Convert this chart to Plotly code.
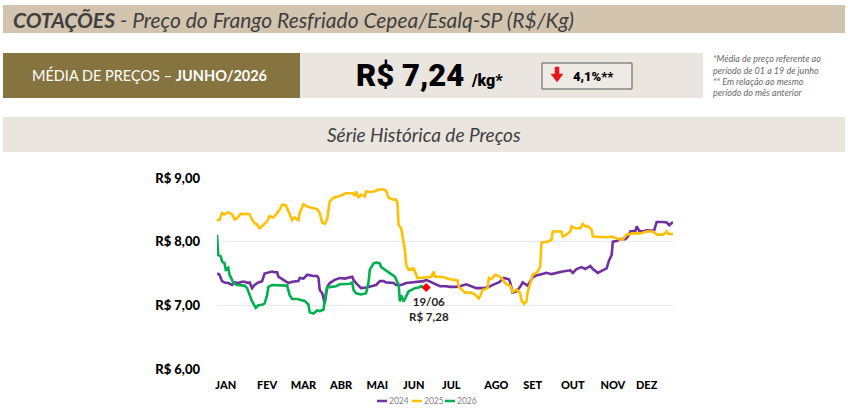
import plotly.graph_objects as go

# ---------------- data (day of year, R$/kg) ----------------
days_2024 = [1, 3, 5, 7, 10, 13, 15, 18, 21, 23, 26, 27, 29, 31, 34, 37, 39, 42, 45, 47, 49, 50, 53, 55, 58, 61, 63, 66, 67, 70,
             73, 75, 78, 81, 82, 83, 85, 87, 89, 91, 95, 99, 103, 109, 110, 112, 116, 120, 124, 128, 131, 134, 136, 139, 142,
             144, 148, 152, 156, 160, 163, 166, 168, 171, 174, 179, 184, 187, 192, 195, 200, 203, 208, 214, 218, 222, 226,
             230, 234, 235, 237, 240, 243, 245, 247, 249, 253, 256, 260, 264, 268, 272, 277, 283, 285, 288, 292, 295, 299,
             301, 305, 308, 312, 314, 316, 317, 320, 323, 327, 329, 331, 335, 336, 338, 341, 344, 348, 350, 352, 357, 360,
             362, 364, 365]
price_2024 = [7.50, 7.48, 7.38, 7.36, 7.35, 7.32, 7.36, 7.35, 7.37, 7.37, 7.35, 7.36, 7.27, 7.32, 7.36, 7.38, 7.50, 7.52, 7.53,
              7.52, 7.52, 7.45, 7.41, 7.38, 7.35, 7.37, 7.37, 7.38, 7.43, 7.42, 7.48, 7.47, 7.46, 7.46, 7.43, 7.24, 7.19, 7.03,
              7.29, 7.35, 7.40, 7.43, 7.42, 7.45, 7.40, 7.35, 7.27, 7.28, 7.30, 7.32, 7.38, 7.38, 7.36, 7.35, 7.35, 7.32, 7.32,
              7.35, 7.36, 7.37, 7.37, 7.38, 7.40, 7.37, 7.35, 7.30, 7.30, 7.29, 7.29, 7.30, 7.33, 7.31, 7.27, 7.27, 7.29, 7.33,
              7.36, 7.43, 7.41, 7.36, 7.20, 7.22, 7.29, 7.36, 7.34, 7.31, 7.44, 7.47, 7.49, 7.51, 7.49, 7.51, 7.53, 7.55, 7.51,
              7.57, 7.60, 7.57, 7.62, 7.57, 7.51, 7.54, 7.58, 7.71, 7.79, 8.00, 8.01, 8.04, 8.04, 8.08, 8.16, 8.17, 8.24, 8.17,
              8.16, 8.18, 8.17, 8.18, 8.31, 8.31, 8.30, 8.26, 8.30, 8.31]

days_2025 = [1, 3, 5, 7, 10, 13, 15, 17, 20, 22, 25, 27, 29, 31, 33, 35, 38, 41, 43, 46, 49, 51, 53, 56, 58, 61, 63, 66, 67, 70,
             73, 75, 78, 81, 83, 85, 87, 89, 91, 94, 98, 100, 104, 109, 111, 112, 114, 116, 119, 120, 124, 127, 130, 134, 136,
             138, 142, 144, 145, 146, 148, 151, 152, 154, 156, 158, 160, 161, 163, 166, 170, 172, 174, 175, 179, 182, 187, 191,
             193, 194, 199, 204, 207, 210, 211, 213, 217, 218, 220, 223, 226, 228, 230, 232, 235, 237, 240, 243, 244, 246, 248,
             249, 251, 253, 255, 257, 259, 260, 261, 265, 268, 269, 273, 276, 277, 280, 283, 284, 287, 291, 293, 295, 297, 300,
             301, 307, 312, 316, 319, 323, 325, 328, 333, 339, 344, 349, 352, 357, 360, 361, 365]
price_2025 = [8.34, 8.34, 8.45, 8.43, 8.46, 8.43, 8.35, 8.37, 8.44, 8.43, 8.44, 8.43, 8.35, 8.29, 8.27, 8.21, 8.26, 8.32, 8.40,
              8.38, 8.45, 8.50, 8.58, 8.57, 8.48, 8.34, 8.38, 8.34, 8.45, 8.59, 8.55, 8.54, 8.53, 8.51, 8.45, 8.30, 8.28, 8.36,
              8.63, 8.69, 8.71, 8.73, 8.76, 8.76, 8.73, 8.79, 8.69, 8.74, 8.71, 8.79, 8.78, 8.79, 8.82, 8.82, 8.80, 8.69, 8.66,
              8.66, 8.61, 8.26, 8.21, 7.87, 7.63, 7.56, 7.57, 7.58, 7.48, 7.43, 7.43, 7.44, 7.45, 7.45, 7.53, 7.45, 7.45, 7.44,
              7.41, 7.39, 7.39, 7.29, 7.20, 7.20, 7.17, 7.11, 7.14, 7.24, 7.27, 7.43, 7.41, 7.48, 7.46, 7.43, 7.37, 7.33, 7.31,
              7.21, 7.25, 7.19, 7.08, 7.02, 7.06, 7.21, 7.34, 7.48, 7.50, 7.53, 7.61, 7.98, 7.99, 8.00, 8.03, 8.16, 8.16, 8.16,
              8.08, 8.11, 8.16, 8.24, 8.21, 8.21, 8.28, 8.24, 8.24, 8.19, 8.08, 8.07, 8.07, 8.08, 8.06, 8.03, 8.04, 8.11, 8.13,
              8.13, 8.16, 8.16, 8.11, 8.11, 8.16, 8.12, 8.12]

days_2026 = [1, 2, 4, 5, 7, 8, 10, 11, 13, 14, 17, 21, 23, 25, 27, 29, 32, 34, 37, 39, 41, 42, 45, 49, 53, 57, 59, 61, 65, 69,
             71, 74, 75, 78, 81, 83, 86, 88, 89, 92, 96, 99, 103, 107, 109, 110, 112, 116, 120, 122, 123, 126, 128, 131, 132,
             135, 138, 140, 143, 146, 147, 148, 150, 152, 154, 156, 159, 162, 164, 166]
price_2026 = [8.11, 7.79, 7.77, 7.69, 7.66, 7.56, 7.59, 7.48, 7.40, 7.35, 7.32, 7.32, 7.31, 7.27, 7.16, 7.06, 6.96, 7.00, 7.01,
              7.03, 7.16, 7.29, 7.32, 7.32, 7.31, 7.31, 7.16, 7.10, 7.10, 7.08, 7.07, 7.01, 6.89, 6.87, 6.92, 6.91, 6.93, 7.21,
              7.28, 7.29, 7.30, 7.33, 7.33, 7.34, 7.36, 7.24, 7.19, 7.17, 7.19, 7.37, 7.56, 7.66, 7.67, 7.66, 7.60, 7.56, 7.51,
              7.48, 7.45, 7.32, 7.06, 7.16, 7.06, 7.14, 7.22, 7.24, 7.27, 7.28, 7.30, 7.28]

last_day = [168]
last_price = [7.28]
last_label = "19/06<br>R$ 7,28"

month_ticks = [8, 41, 70, 100, 129, 158, 188, 224, 253, 285, 317, 344]
month_labels = ["JAN", "FEV", "MAR", "ABR", "MAI", "JUN", "JUL", "AGO", "SET", "OUT", "NOV", "DEZ"]
price_ticks = [6, 7, 8, 9]
price_labels = ["R$ 6,00", "R$ 7,00", "R$ 8,00", "R$ 9,00"]

series_names = ["2024", "2025", "2026"]
series_colors = ["#7030A0", "#FFC000", "#00B050"]

# ---------------- layout helpers (pixel -> paper) ----------------
W, H = 848, 412
PL, PR, PT, PB = 217, 673, 178, 369


def fx(px):
    return (px - PL) / (PR - PL)


def fy(py):
    return (PB - py) / (PB - PT)


FONT = "Lato"
fig = go.Figure()

for name, xs, ys, col in zip(series_names, [days_2024, days_2025, days_2026],
                             [price_2024, price_2025, price_2026], series_colors):
    fig.add_trace(go.Scatter(x=xs, y=ys, mode="lines", name=name, showlegend=False,
                             line=dict(color=col, width=2.6)))

fig.add_trace(go.Scatter(x=last_day, y=last_price, mode="markers", showlegend=False,
                         marker=dict(symbol="diamond", color="#FF0000", size=7)))

shapes = []


def rect(x0, y0, x1, y1, fill, line_color=None, lw=0):
    shapes.append(dict(type="rect", xref="paper", yref="paper",
                       x0=fx(x0), x1=fx(x1), y0=fy(y1), y1=fy(y0),
                       fillcolor=fill, line=dict(color=line_color or fill, width=lw), layer="below"))


rect(3, 5, 845, 33, "#D3C4AF")
rect(3, 53, 300, 98, "#85743F")
rect(300, 53, 703, 98, "#EAE5DF")
rect(542, 63, 632, 89, "#EEEAE5", "#595959", 1)
rect(3, 117, 845, 152, "#EAE5DF")

# red down arrow
pts = [(555, 67), (559, 67), (559, 74), (563, 74), (557, 82), (551, 74), (555, 74)]
path = "M " + " L ".join(f"{fx(a):.5f},{fy(b):.5f}" for a, b in pts) + " Z"
shapes.append(dict(type="path", xref="paper", yref="paper", path=path,
                   fillcolor="#E8141B", line=dict(color="#E8141B", width=0.5)))

ann = []


def text(px, py, s, size, color="#404040", anchor="left", family=FONT, va="middle", weight=None):
    f = dict(size=size, color=color, family=family)
    if weight:
        f["weight"] = weight
    ann.append(dict(x=fx(px), y=fy(py), xref="paper", yref="paper", text=s, showarrow=False,
                    xanchor=anchor, yanchor=va, font=f))


text(11, 19, "<b><i>COTAÇÕES</i></b><i> - Preço do Frango Resfriado Cepea/Esalq-SP (R$/Kg)</i>", 21, "#3F3F3F")
text(149, 75, "MÉDIA DE PREÇOS – <b>JUNHO/2026</b>", 14.5, "#FFFFFF", "center")
text(429, 75, "R$ 7,24 <span style='font-size:16px'>/kg*</span>", 31, "#000000", "center",
     family="Roboto", weight=900)
text(593, 76, "4,1%**", 13, "#000000", "center", family="Roboto", weight=900)
text(711, 59, "<i>*Média de preço referente ao</i>", 9, "#6A6A6A")
text(711, 70, "<i>período de 01 a 19 de junho</i>", 9, "#6A6A6A")
text(711, 81, "<i>** Em relação ao mesmo</i>", 9, "#6A6A6A")
text(711, 92, "<i>período do mês anterior</i>", 9, "#6A6A6A")
text(424, 134, "<i>Série Histórica de Preços</i>", 19, "#404040", "center")

ann.append(dict(x=last_day[0] + 2, y=last_price[0], xref="x", yref="y", text="<b>" + last_label + "</b>",
                showarrow=False, xanchor="center", yanchor="top", yshift=-5,
                font=dict(size=11.5, color="#262626", family=FONT)))

# compact legend (short line + label), as in the original
legend_x = [377, 412, 445]
for name, col, lx in zip(series_names, series_colors, legend_x):
    shapes.append(dict(type="line", xref="paper", yref="paper", x0=fx(lx), x1=fx(lx + 10),
                       y0=fy(401), y1=fy(401), line=dict(color=col, width=2.5)))
    text(lx + 10, 401, name, 8.5, "#7F7F7F")

fig.update_layout(
    width=W, height=H,
    margin=dict(l=PL, r=W - PR, t=PT, b=H - PB, pad=0),
    paper_bgcolor="#FFFFFF", plot_bgcolor="#FFFFFF",
    shapes=shapes, annotations=ann,
    showlegend=False,
    xaxis=dict(range=[1, 365], tickvals=month_ticks, ticktext=month_labels, showgrid=False,
               zeroline=False, showline=False, ticks="", ticklabelstandoff=8, automargin=False,
               tickfont=dict(size=11, color="#000000", family=FONT + " Black")),
    yaxis=dict(range=[6, 9], tickvals=price_ticks, ticktext=price_labels, showgrid=True,
               gridcolor="#E9E9E9", gridwidth=1, zeroline=False, showline=False, ticks="",
               ticklabelstandoff=16, automargin=False,
               tickfont=dict(size=13, color="#000000", family=FONT + " Black")),
)

fig.write_html("out.html", config={"displayModeBar": False},
               post_script="document.body.style.margin='0px';")
